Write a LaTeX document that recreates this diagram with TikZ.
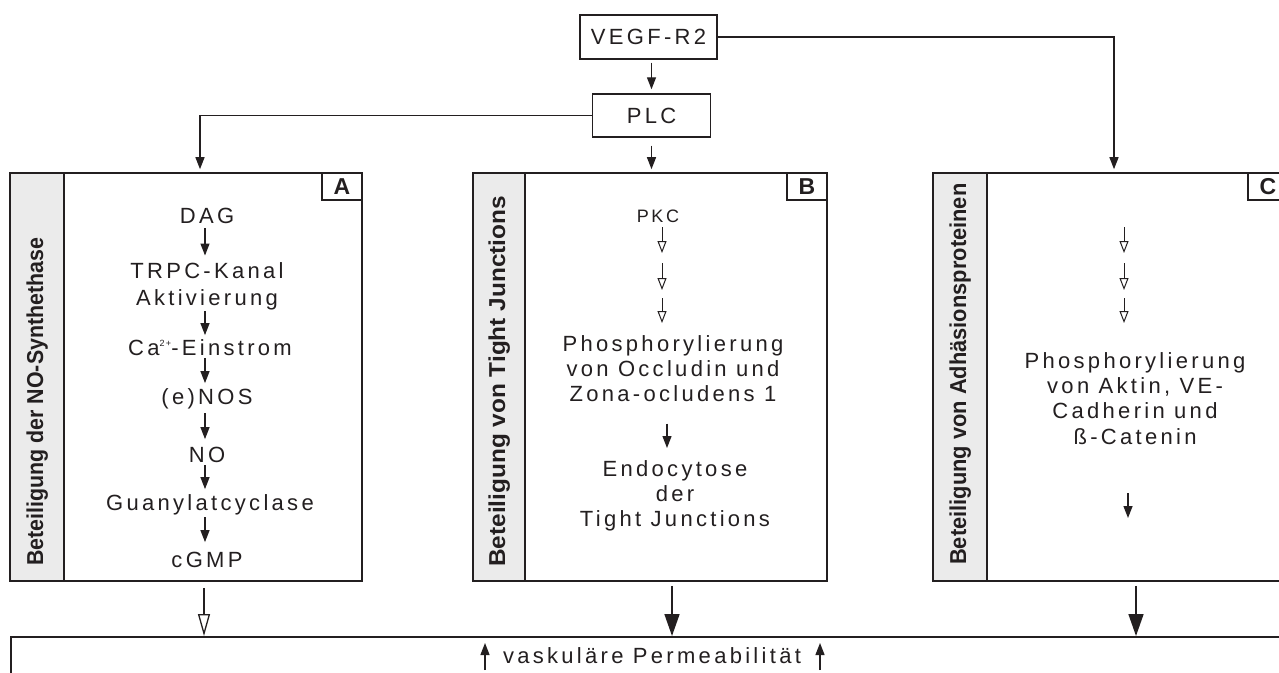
\documentclass[tikz,border=0pt]{standalone}
\usepackage{graphicx}
\usepackage{fontspec}
\setmainfont{Liberation Sans}[LetterSpace=15]
\newfontfamily\sidefont{Liberation Sans}
\usetikzlibrary{arrows.meta,calc}
\definecolor{ink}{HTML}{231F20}
\definecolor{sidegray}{HTML}{EBEBEB}
\begin{document}
\begin{tikzpicture}[x=1pt,y=-1pt,
  frame/.style={draw=ink, line width=1.6pt, inner sep=0pt},
  sidebar/.style={draw=ink, line width=1.6pt, fill=sidegray, inner sep=0pt},
  tagbox/.style={draw=ink, line width=1.4pt, fill=white, inner sep=0pt,
    minimum width=40pt, minimum height=27pt, text=ink,
    font=\sidefont\bfseries\fontsize{23}{23}\selectfont},
  topbox/.style={draw=ink, line width=1.4pt, inner sep=0pt, text=ink,
    font=\fontsize{22}{22}\selectfont},
  lbl/.style={inner sep=0pt, text=ink, font=\fontsize{22}{27}\selectfont,
    text height=15.7pt, text depth=0pt, anchor=base},
  mlbl/.style={inner sep=0pt, text=ink, align=center, anchor=north,
    font=\fontsize{22}{25}\selectfont},
  sidelbl/.style={inner sep=0pt, text=ink, rotate=90, anchor=base west,
    font=\sidefont\bfseries\fontsize{23}{23}\selectfont},
  arr/.style={draw=ink, line width=1.3pt, -{Triangle[length=12pt,width=9pt]}},
  oarr/.style={draw=ink, line width=1pt, -{Triangle[open,length=12pt,width=9pt]}},
  bigarr/.style={draw=ink, line width=1.6pt, -{Triangle[length=22pt,width=15pt]}},
  bigoarr/.style={draw=ink, line width=1.3pt, -{Triangle[open,length=22pt,width=12pt]}},
]
\useasboundingbox (0,0) rectangle (1279,672);
\clip (0,0) rectangle (1279,672);
\fill[white] (0,0) rectangle (1279,672);

% column coordinates
\coordinate (colAin) at (200,0);
\coordinate (colA) at (205,0);
\coordinate (colAo) at (204,0);
\coordinate (colB1) at (662,0);
\coordinate (colB2) at (667,0);
\coordinate (colB3) at (672,0);
\coordinate (colCin) at (1114,0);
\coordinate (colC1) at (1124,0);
\coordinate (colC2) at (1128,0);
\coordinate (colC3) at (1136,0);

% top boxes
\node[topbox, minimum width=137pt, minimum height=44pt] (vegf) at (648.5,37) {VEGF-R2};
\node[topbox, minimum width=118pt, minimum height=43pt] (plc) at (651.5,115.5) {PLC};

% panel frames
\node[frame, minimum width=352pt, minimum height=408pt] (boxA) at (186,377) {};
\node[sidebar, minimum width=54pt, minimum height=408pt] (sideA) at (37,377) {};
\node[tagbox] (tagA) at (342,186.5) {A};

\node[frame, minimum width=354pt, minimum height=408pt] (boxB) at (650,377) {};
\node[sidebar, minimum width=52pt, minimum height=408pt] (sideB) at (499,377) {};
\node[tagbox] (tagB) at (807,186.5) {B};

\node[frame, minimum width=355pt, minimum height=408pt] (boxC) at (1110.5,377) {};
\node[sidebar, minimum width=54pt, minimum height=408pt] (sideC) at (960,377) {};
\node[tagbox] (tagC) at (1268,186.5) {C};

\node[frame, anchor=north west, minimum width=1300pt, minimum height=80pt] (bot) at (10,636) {};

% side labels
\node[sidelbl] (sA) at (43,566) {\scalebox{0.93}[1]{Beteiligung der NO-Synthethase}};
\node[sidelbl] (sB) at (505,567) {\scalebox{1.06}[1]{Beteiligung von Tight Junctions}};
\node[sidelbl] (sC) at (966,565) {\scalebox{0.95}[1]{Beteiligung von Adhäsionsproteinen}};

% top connectors
\draw[arr, shorten <=3pt, shorten >=4pt] (vegf.south -| plc.north) -- (plc.north);
\draw[arr, shorten >=3pt] (plc.west) -| (boxA.north -| colAin);
\draw[arr, shorten >=3pt] (vegf.east) -| (boxC.north -| colCin);
\draw[arr, shorten <=8pt, shorten >=3pt] (plc.south) -- (plc.south |- boxB.north);

% panel A
\node[lbl] (dag) at (207,223) {DAG};
\node[mlbl, font=\fontsize{22}{27}\selectfont] (trpc) at (207,262.5) {TRPC-Kanal\\Aktivierung};
\node[lbl] (ca) at (210,355) {Ca\raisebox{9pt}{\fontsize{9}{9}\selectfont 2+}-Einstrom};
\node[lbl] (nos) at (207,404) {(e)NOS};
\node[lbl] (no) at (207,462) {NO};
\node[lbl] (guan) at (210,510) {Guanylatcyclase};
\node[lbl] (cgmp) at (207,567) {cGMP};

\draw[arr, shorten <=5pt, shorten >=7pt] (dag.south -| colA) -- (trpc.north -| colA);
\draw[arr, shorten <=1pt, shorten >=4pt] (trpc.south -| colA) -- (ca.north -| colA);
\draw[arr, shorten <=3pt, shorten >=5pt] (ca.south -| colA) -- (nos.north -| colA);
\draw[arr, shorten <=9pt, shorten >=7pt] (nos.south -| colA) -- (no.north -| colA);
\draw[arr, shorten <=3pt, shorten >=5pt] (no.south -| colA) -- (guan.north -| colA);
\draw[arr, shorten <=7pt, shorten >=9pt] (guan.south -| colA) -- (cgmp.north -| colA);

% panel B
\node[lbl, font=\fontsize{18}{18}\selectfont, text height=12.9pt] (pkc) at (658,222) {PKC};
\coordinate (b1) at (662,253);
\coordinate (b2) at (662,263);
\coordinate (b3) at (662,290);
\coordinate (b4) at (662,298);
\node[mlbl] (phosB) at (673,335) {Phosphorylierung\\von Occludin und\\Zona-ocludens 1};
\node[mlbl] (endoB) at (675,460) {Endocytose\\der\\Tight Junctions};

\draw[oarr, shorten <=5pt] (pkc.south -| colB1) -- (b1);
\draw[oarr] (b2) -- (b3);
\draw[oarr, shorten >=12pt] (b4) -- (phosB.north -| colB1);
\draw[arr, shorten <=22pt, shorten >=12pt] (phosB.south -| colB2) -- (endoB.north -| colB2);

% panel C
\coordinate (c1) at (1124,227);
\coordinate (c2) at (1124,253);
\coordinate (c3) at (1124,263);
\coordinate (c4) at (1124,290);
\coordinate (c5) at (1124,298);
\node[mlbl, font=\fontsize{22}{25.3}\selectfont] (phosC) at (1135,352) {Phosphorylierung\\von Aktin, VE-\\Cadherin und\\ß-Catenin};
\coordinate (cf1) at (1128,493);
\coordinate (cf2) at (1128,518);

\draw[oarr] (c1) -- (c2);
\draw[oarr] (c3) -- (c4);
\draw[oarr, shorten >=29pt] (c5) -- (phosC.north -| colC1);
\draw[arr] (cf1) -- (cf2);

% to bottom
\draw[bigoarr, shorten <=6pt] (boxA.south -| colAo) -- (bot.north -| colAo);
\draw[bigarr, shorten <=4pt] (boxB.south -| colB3) -- (bot.north -| colB3);
\draw[bigarr, shorten <=4pt] (boxC.south -| colC3) -- (bot.north -| colC3);

% bottom text
\node[lbl] (perm) at (652,663) {vaskuläre Permeabilität};
\coordinate (upL1) at (485,670);
\coordinate (upL2) at (485,643);
\coordinate (upR1) at (820,670);
\coordinate (upR2) at (820,643);
\draw[arr] (upL1) -- (upL2);
\draw[arr] (upR1) -- (upR2);
\end{tikzpicture}
\end{document}
